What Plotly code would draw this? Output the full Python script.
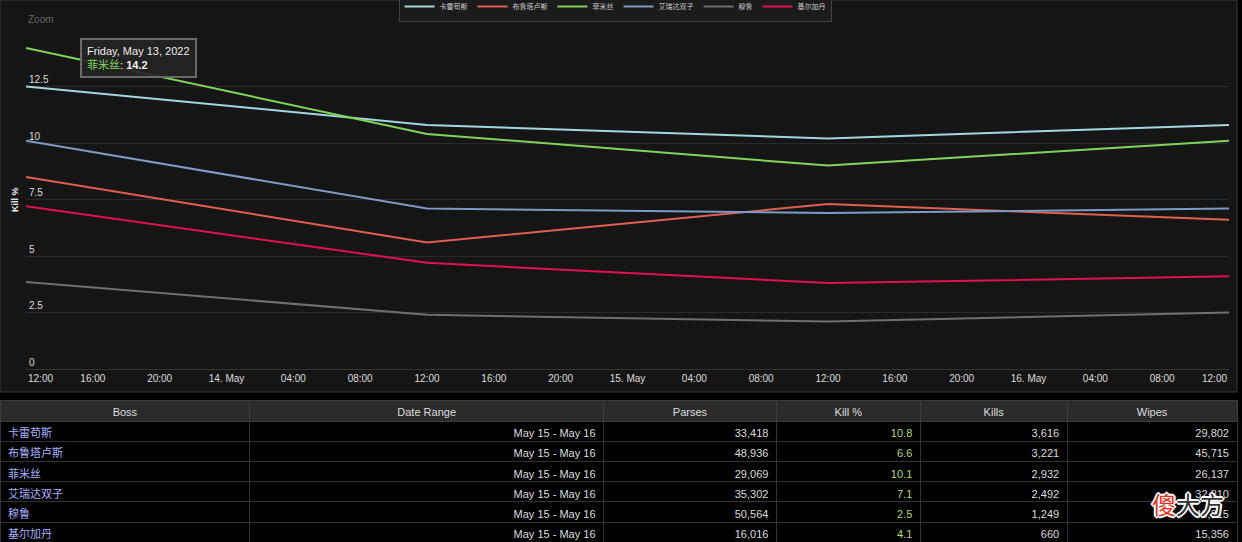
import plotly.graph_objects as go
import pandas as pd

# ---- data ----
dates = ["2022-05-13 12:00", "2022-05-14 12:00", "2022-05-15 12:00", "2022-05-16 12:00"]
bosses = ["卡雷苟斯", "布鲁塔卢斯", "菲米丝", "艾瑞达双子", "穆鲁", "基尔加丹"]
kill_karegos = [12.5, 10.8, 10.2, 10.8]
kill_brutallus = [8.5, 5.6, 7.3, 6.6]
kill_felmyst = [14.2, 10.4, 9.0, 10.1]
kill_eredar = [10.1, 7.1, 6.9, 7.1]
kill_muru = [3.85, 2.4, 2.1, 2.5]
kill_kiljaeden = [7.2, 4.7, 3.8, 4.1]
series_colors = ["#9fd8df", "#e0604e", "#7fd55a", "#7b9cc8", "#6f6f6f", "#e4114f"]

x_tick_labels = ["12:00", "16:00", "20:00", "14. May", "04:00", "08:00",
                 "12:00", "16:00", "20:00", "15. May", "04:00", "08:00",
                 "12:00", "16:00", "20:00", "16. May", "04:00", "08:00", "12:00"]
y_tick_vals = [0, 2.5, 5, 7.5, 10, 12.5, 15]
y_tick_labels = ["0", "2.5", "5", "7.5", "10", "12.5", ""]

table_headers = ["Boss", "Date Range", "Parses", "Kill %", "Kills", "Wipes"]
date_ranges = ["May 15 - May 16"] * 6
parses = ["33,418", "48,936", "29,069", "35,302", "50,564", "16,016"]
kill_pct = ["10.8", "6.6", "10.1", "7.1", "2.5", "4.1"]
kills = ["3,616", "3,221", "2,932", "2,492", "1,249", "660"]
wipes = ["29,802", "45,715", "26,137", "32,810", "49,315", "15,356"]

tooltip_date = "Friday, May 13, 2022"
# ---------------

series = [kill_karegos, kill_brutallus, kill_felmyst, kill_eredar, kill_muru, kill_kiljaeden]

W, H = 1242, 542
def py(pix):
    return 1 - pix / H

fig = go.Figure()
for name, vals, col in zip(bosses, series, series_colors):
    fig.add_trace(go.Scatter(x=pd.to_datetime(dates), y=vals, name=name, mode="lines",
                             line=dict(color=col, width=2), xaxis="x", yaxis="y"))

tickvals = pd.date_range(dates[0], dates[-1], freq="4h")
# edge labels are drawn as annotations (kept inside the plot, like the original)
ticktext = [""] + x_tick_labels[1:-1] + [""]

fig.add_trace(go.Table(
    domain=dict(x=[0, 1237 / W], y=[0, py(400)]),
    columnwidth=[250, 354, 173, 144, 147, 170],
    header=dict(values=table_headers, fill_color="#2b2b2b", line_color="#3c3c3c",
                align="center", height=21,
                font=dict(color="#dddddd", size=11, family="Liberation Sans Narrow, Liberation Sans, Arial")),
    cells=dict(values=[bosses, date_ranges, parses, kill_pct, kills, wipes],
               fill_color="#000000", line_color="#333333",
               align=["left", "right", "right", "right", "right", "right"], height=20.2,
               font=dict(color=["#aab0ff", "#dddddd", "#dddddd", "#b5dc6e", "#dddddd", "#dddddd"],
                         size=11, family="Liberation Sans Narrow, Liberation Sans, Noto Sans CJK SC, Arial"))
))

fig.update_layout(
    width=W, height=H,
    margin=dict(l=0, r=0, t=0, b=0, autoexpand=False),
    paper_bgcolor="#000000",
    plot_bgcolor="#151515",
    font=dict(family="Liberation Sans Narrow, Liberation Sans, Noto Sans CJK SC, Arial", color="#dddddd"),
    xaxis=dict(domain=[26 / W, 1229 / W], type="date", automargin=False,
               range=[pd.Timestamp(dates[0]), pd.Timestamp(dates[-1])],
               tickvals=tickvals, ticktext=ticktext, showgrid=False,
               showline=True, linecolor="#333333", linewidth=1, ticks="",
               tickfont=dict(size=10, color="#dddddd"), zeroline=False, anchor="y"),
    yaxis=dict(domain=[py(369), py(30)], range=[0, 15], tickvals=y_tick_vals, ticktext=y_tick_labels,
               automargin=False,
               ticklabelposition="inside top", showgrid=True, gridcolor="#2a2a2a", gridwidth=1,
               zeroline=False, tickfont=dict(size=10, color="#dddddd"), anchor="x"),
    legend=dict(orientation="h", x=615 / W, xanchor="center", y=1 + 9 / H, yanchor="top",
                bgcolor="#1b1b1b", bordercolor="#444444", borderwidth=1,
                font=dict(size=7, color="#cccccc", family="Noto Sans CJK SC"),
                itemwidth=30, tracegroupgap=0),
    showlegend=True,
    shapes=[dict(type="rect", xref="paper", yref="paper", x0=0, x1=1237 / W, y0=py(392), y1=1,
                 fillcolor="#151515", line=dict(color="#3a3a3a", width=1), layer="below")],
)

tick_font = dict(size=10, color="#dddddd")
annotations = [
    dict(text=x_tick_labels[0], x=pd.Timestamp(dates[0]), xref="x", yref="paper", y=py(378),
         xanchor="left", yanchor="middle", xshift=0, showarrow=False, font=tick_font),
    dict(text=x_tick_labels[-1], x=pd.Timestamp(dates[-1]), xref="x", yref="paper", y=py(378),
         xanchor="right", yanchor="middle", xshift=0, showarrow=False, font=tick_font),
    dict(text="Zoom", xref="paper", yref="paper", x=26 / W, y=py(12), xanchor="left", yanchor="top",
         showarrow=False, font=dict(size=10, color="#666666")),
    dict(text="<b>Kill %</b>", xref="paper", yref="paper", x=8 / W, y=py(200), textangle=-90,
         showarrow=False, font=dict(size=9, color="#eeeeee")),
    dict(text=f"{tooltip_date}<br><span style='color:{series_colors[2]}'>{bosses[2]}</span>: <b>{kill_felmyst[0]}</b>",
         x=pd.Timestamp(dates[0]), y=kill_felmyst[0], xref="x", yref="y", xanchor="left", yanchor="middle",
         xshift=54, yshift=-10, showarrow=False, align="left",
         bgcolor="rgba(36,36,36,0.92)", bordercolor="#6a6a6a", borderwidth=2, borderpad=5,
         font=dict(size=11, color="#eeeeee", family="Liberation Sans, Noto Sans CJK SC")),
    dict(text="<span style='color:#e8321e'>傻</span>大方", xref="paper", yref="paper",
         x=1226 / W, y=py(503), xanchor="right", yanchor="middle", showarrow=False,
         font=dict(size=24, color="#333333", family="Noto Sans CJK SC",
                   shadow="-1px -1px 0 #fff, 1px -1px 0 #fff, -1px 1px 0 #fff, 1px 1px 0 #fff, 0 2px 0 #fff, 2px 0 0 #fff, -2px 0 0 #fff, 0 -2px 0 #fff")),
]
fig.update_layout(annotations=annotations)

fig.write_html("out.html")
